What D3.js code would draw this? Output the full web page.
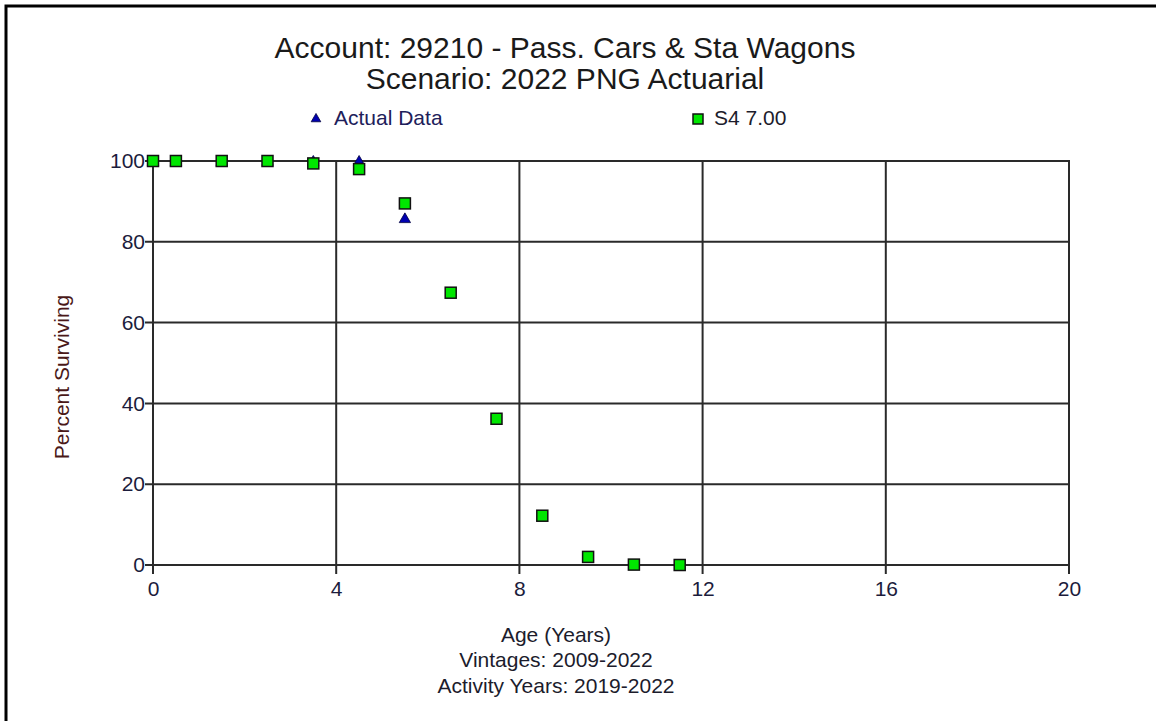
<!DOCTYPE html>
<html><head><meta charset="utf-8">
<script src="https://cdn.jsdelivr.net/npm/d3@7"></script>
<style>body{margin:0;background:#fff}svg{display:block;font-family:"Liberation Sans",Arial,sans-serif}</style>
</head><body><svg id="c" width="1156" height="721"></svg>
<script>
const titleLines = ["Account: 29210 - Pass. Cars & Sta Wagons", "Scenario: 2022 PNG Actuarial"];
const xTicks = [0, 4, 8, 12, 16, 20];
const yTicks = [0, 20, 40, 60, 80, 100];
const actualAge = [0, 0.5, 1.5, 2.5, 3.5, 4.5, 5.5];
const actualPct = [100, 100, 100, 100, 100, 100, 85.8];
const curveAge = [0, 0.5, 1.5, 2.5, 3.5, 4.5, 5.5, 6.5, 7.5, 8.5, 9.5, 10.5, 11.5];
const curvePct = [100, 100, 100, 100, 99.4, 98.0, 89.5, 67.4, 36.2, 12.2, 2.0, 0.1, 0.0];
const legendLabels = ["Actual Data", "S4 7.00"];
const xTitle = "Age (Years)";
const yTitle = "Percent Surviving";
const footLines = ["Vintages: 2009-2022", "Activity Years: 2019-2022"];

const FS = 21;
const svg = d3.select("#c");
const x = d3.scaleLinear().domain([0, 20]).range([153, 1069]);
const y = d3.scaleLinear().domain([0, 100]).range([565, 161]);

// outer frame (left & top)
svg.append("path").attr("d", "M6,721 V6 H1156").attr("fill", "none").attr("stroke", "#000").attr("stroke-width", 3);

// titles
svg.selectAll("text.title").data(titleLines).enter().append("text")
  .attr("x", 565).attr("y", (d, i) => 58 + i * 31).attr("text-anchor", "middle")
  .attr("font-size", 30).attr("fill", "#1a1a1a").text(d => d);

// grid
const g = svg.append("g");
g.selectAll("line.vg").data(xTicks.slice(1, -1)).enter().append("line")
  .attr("x1", d => x(d)).attr("x2", d => x(d)).attr("y1", y(100)).attr("y2", y(0) + 9)
  .attr("stroke", "#2a2a2a").attr("stroke-width", 2);
g.selectAll("line.hg").data(yTicks.slice(1, -1)).enter().append("line")
  .attr("x1", x(0) - 8).attr("x2", x(20)).attr("y1", d => y(d)).attr("y2", d => y(d))
  .attr("stroke", "#2a2a2a").attr("stroke-width", 2);
g.append("rect").attr("x", x(0)).attr("y", y(100)).attr("width", x(20) - x(0)).attr("height", y(0) - y(100))
  .attr("fill", "none").attr("stroke", "#2a2a2a").attr("stroke-width", 2);
[0, 20].forEach(v => g.append("line").attr("x1", x(v)).attr("x2", x(v)).attr("y1", y(0)).attr("y2", y(0) + 9).attr("stroke", "#2a2a2a").attr("stroke-width", 2));
[0, 100].forEach(v => g.append("line").attr("x1", x(0) - 8).attr("x2", x(0)).attr("y1", y(v)).attr("y2", y(v)).attr("stroke", "#2a2a2a").attr("stroke-width", 2));

// axes labels
const xAxis = d3.axisBottom(x).tickValues(xTicks).tickSize(0).tickPadding(0);
svg.append("g").attr("transform", `translate(0,${y(0) + 24})`).call(xAxis)
  .call(s => s.select(".domain").remove())
  .call(s => s.selectAll("text").attr("font-size", FS).attr("fill", "#1c1c3c").attr("font-family", "Liberation Sans, Arial, sans-serif").attr("dy", "0.32em"));
const yAxis = d3.axisLeft(y).tickValues(yTicks).tickSize(0).tickPadding(0);
svg.append("g").attr("transform", `translate(${x(0) - 8},0)`).call(yAxis)
  .call(s => s.select(".domain").remove())
  .call(s => s.selectAll("text").attr("font-size", FS).attr("fill", "#1c1c3c").attr("font-family", "Liberation Sans, Arial, sans-serif"));

svg.append("text").attr("transform", "translate(69,377) rotate(-90)").attr("text-anchor", "middle")
  .attr("font-size", FS).attr("fill", "#4a1818").text(yTitle);
svg.append("text").attr("x", 556).attr("y", 642).attr("text-anchor", "middle").attr("font-size", FS).attr("fill", "#1c1c2c").text(xTitle);
svg.selectAll("text.foot").data(footLines).enter().append("text")
  .attr("x", 556).attr("y", (d, i) => 667 + i * 26).attr("text-anchor", "middle")
  .attr("font-size", FS).attr("fill", "#1c1c2c").text(d => d);

// data
const tri = d3.symbol().type(d3.symbolTriangle).size(55);
svg.selectAll("path.act").data(actualAge.map((a, i) => [a, actualPct[i]])).enter().append("path")
  .attr("d", tri).attr("transform", d => `translate(${x(d[0])},${y(d[1]) + 1})`)
  .attr("fill", "#0000b0").attr("stroke", "#000040").attr("stroke-width", 0.8);
svg.selectAll("rect.s4").data(curveAge.map((a, i) => [a, curvePct[i]])).enter().append("rect")
  .attr("x", d => x(d[0]) - 5.5).attr("y", d => y(d[1]) - 5.5).attr("width", 11).attr("height", 11)
  .attr("fill", "#00e600").attr("stroke", "#111").attr("stroke-width", 1.5);

// legend
svg.append("path").attr("d", d3.symbol().type(d3.symbolTriangle).size(40)).attr("transform", "translate(316,119)")
  .attr("fill", "#0000b0").attr("stroke", "#000040").attr("stroke-width", 0.8);
svg.append("text").attr("x", 334).attr("y", 125).attr("font-size", FS).attr("fill", "#20205a").text(legendLabels[0]);
svg.append("rect").attr("x", 693).attr("y", 114).attr("width", 10).attr("height", 10)
  .attr("fill", "#00e600").attr("stroke", "#111").attr("stroke-width", 1.5);
svg.append("text").attr("x", 714).attr("y", 125).attr("font-size", FS).attr("fill", "#1c1c2c").text(legendLabels[1]);
</script></body></html>
